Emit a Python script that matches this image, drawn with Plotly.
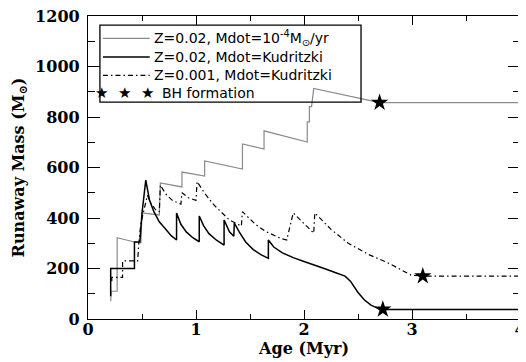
import plotly.graph_objects as go

# Z=0.02, Mdot=1e-4 Msun/yr (grey)
age_a = [0.21, 0.215, 0.27, 0.27, 0.43, 0.49, 0.50, 0.66, 0.67, 0.87, 0.87, 1.08, 1.08,
         1.43, 1.43, 1.63, 1.63, 2.03, 2.03, 2.05, 2.05, 2.07, 2.09, 2.70, 4.0]
mass_a = [70, 110, 110, 322, 305, 302, 420, 412, 539, 523, 582, 566, 626,
          594, 693, 673, 745, 701, 781, 781, 841, 841, 913, 857, 857]

# Z=0.02, Mdot=Kudritzki (black solid)
age_b = [0.21, 0.21, 0.43, 0.43, 0.48, 0.50, 0.535, 0.57, 0.61, 0.66, 0.72, 0.77, 0.82,
         0.82, 0.86, 0.91, 0.97, 1.03, 1.03, 1.07, 1.12, 1.19, 1.26, 1.26, 1.31, 1.35,
         1.355, 1.40, 1.46, 1.53, 1.60, 1.67, 1.67, 1.72, 1.80, 1.90, 2.00, 2.10, 2.20,
         2.30, 2.38, 2.43, 2.50, 2.56, 2.62, 2.68, 2.73, 4.0]
mass_b = [90, 200, 200, 305, 305, 420, 550, 470, 425, 385, 355, 330, 313,
          420, 375, 345, 322, 306, 408, 370, 338, 312, 293, 392, 345, 328,
          380, 345, 305, 275, 255, 240, 313, 285, 262, 243, 228, 214, 198,
          182, 170, 150, 105, 75, 55, 43, 38, 38]

# Z=0.001, Mdot=Kudritzki (dash-dot)
age_c = [0.22, 0.22, 0.32, 0.32, 0.46, 0.47, 0.49, 0.52, 0.55, 0.58, 0.63, 0.66, 0.67,
         0.72, 0.78, 0.86, 0.87, 0.93, 1.00, 1.01, 1.08, 1.17, 1.31, 1.42, 1.43, 1.55,
         1.64, 1.78, 1.84, 1.90, 2.09, 2.10, 2.25, 2.41, 2.60, 2.78, 2.99, 3.10, 4.0]
mass_c = [150, 165, 165, 230, 230, 300, 380, 430, 490, 460, 430, 425, 530,
          495, 470, 455, 500, 480, 470, 544, 498, 450, 392, 368, 425, 375,
          348, 320, 313, 420, 340, 420, 355, 300, 255, 222, 174, 170, 170]

# BH formation
bh_age = [2.70, 2.73, 3.10]
bh_mass = [857, 38, 170]

x_ticks = [0, 1, 2, 3, 4]
y_ticks = [0, 200, 400, 600, 800, 1000, 1200]

fig = go.Figure()
fig.add_trace(go.Scatter(x=age_a, y=mass_a, mode="lines",
                         line=dict(color="#8a8a8a", width=1.2),
                         name="Z=0.02, Mdot=10<sup>-4</sup>M<sub>⊙</sub>/yr", showlegend=False))
fig.add_trace(go.Scatter(x=age_b, y=mass_b, mode="lines",
                         line=dict(color="black", width=1.5),
                         name="Z=0.02, Mdot=Kudritzki", showlegend=False))
fig.add_trace(go.Scatter(x=age_c, y=mass_c, mode="lines",
                         line=dict(color="black", width=1.2, dash="5px,3px,1.5px,3px"),
                         name="Z=0.001, Mdot=Kudritzki", showlegend=False))
fig.add_trace(go.Scatter(x=bh_age, y=bh_mass, mode="markers",
                         marker=dict(symbol="star", size=13, color="black"),
                         name="BH formation", showlegend=False))

axis_font = dict(family="DejaVu Serif, Liberation Serif, serif", size=16, color="black", weight="bold")

# the page body adds an 8px offset, so the figure is 8px smaller than the window
fig.update_layout(
    width=518, height=354,
    margin=dict(l=80, r=6, t=8, b=43),
    paper_bgcolor="white", plot_bgcolor="white",
    showlegend=False,
    xaxis=dict(range=[0, 4], tickvals=x_ticks, ticks="inside", ticklen=9, tickwidth=1,
               tickcolor="black", showline=True, linecolor="black", linewidth=1.3,
               mirror="ticks", showgrid=False, zeroline=False, automargin=False,
               tickfont=axis_font, ticklabelstandoff=-4, ticklabeloverflow="allow",
               minor=dict(dtick=0.5, ticks="inside", ticklen=5, tickcolor="black", showgrid=False),
               title=dict(text="Age (Myr)", font=axis_font, standoff=0)),
    yaxis=dict(range=[0, 1200], tickvals=y_ticks, ticks="inside", ticklen=12, tickwidth=1,
               tickcolor="black", showline=True, linecolor="black", linewidth=1.3,
               mirror="ticks", showgrid=False, zeroline=False, automargin=False,
               tickfont=axis_font, ticklabelstandoff=4, ticklabeloverflow="allow",
               minor=dict(dtick=100, ticks="inside", ticklen=7, tickcolor="black", showgrid=False),
               title=dict(text="Runaway Mass (M<sub>⊙</sub>)", font=axis_font, standoff=6)),
)

# legend drawn as a framed box with samples and labels
leg_font = dict(family="DejaVu Sans", size=14, color="black")
fig.add_shape(type="rect", xref="paper", yref="paper", x0=0.0276, x1=0.632, y0=0.716, y1=0.970,
              line=dict(color="black", width=1.3), fillcolor="rgba(0,0,0,0)")
rows_y = [0.926, 0.865, 0.804, 0.745]
samples = [dict(color="#8a8a8a", width=1.2), dict(color="black", width=1.5),
           dict(color="black", width=1.2, dash="5px,3px,1.5px,3px")]
labels = ["Z=0.02, Mdot=10<sup>-4</sup>M<sub>⊙</sub>/yr", "Z=0.02, Mdot=Kudritzki",
          "Z=0.001, Mdot=Kudritzki", "BH formation"]
label_x = [0.15, 0.15, 0.15, 0.168]
for yy, ln in zip(rows_y[:3], samples):
    fig.add_shape(type="line", xref="paper", yref="paper", x0=0.0346, x1=0.1429, y0=yy, y1=yy, line=ln)
for yy, xx, lab in zip(rows_y, label_x, labels):
    fig.add_annotation(xref="paper", yref="paper", x=xx, y=yy, text=lab, showarrow=False,
                       xanchor="left", yanchor="middle", font=leg_font, borderpad=0)
fig.add_annotation(xref="paper", yref="paper", x=0.085, y=rows_y[3],
                   text="★\u00a0\u00a0★\u00a0\u00a0★",
                   showarrow=False, xanchor="center", yanchor="middle", borderpad=0,
                   font=dict(family="DejaVu Sans", size=15, color="black"))

fig.write_html("out.html")
